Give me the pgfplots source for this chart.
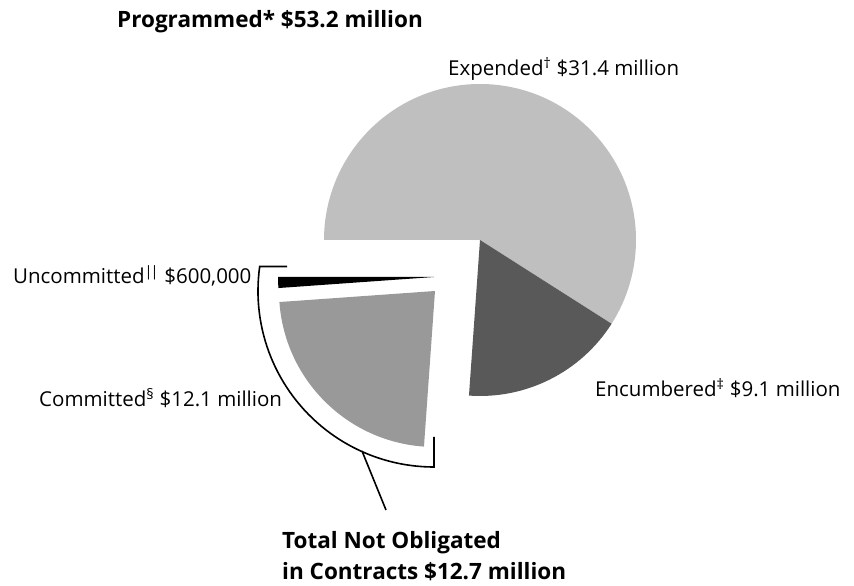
\documentclass[border=0pt]{standalone}
\usepackage{pgfplots}
\pgfplotsset{compat=1.18}
\usepackage{fontspec}
\setmainfont{Open Sans}

% amounts in million $
\def\vExp{31.4}
\def\vEnc{9.1}
\def\vCom{12.1}
\def\vUnc{0.6}
\pgfmathsetmacro\vTot{\vExp+\vEnc+\vCom+\vUnc}
\pgfmathsetmacro\aA{180-360*\vExp/\vTot}
\pgfmathsetmacro\aB{\aA-360*\vEnc/\vTot}
\pgfmathsetmacro\aC{\aB-360*\vCom/\vTot}
\pgfmathsetmacro\aD{\aC-360*\vUnc/\vTot}

\definecolor{cExp}{gray}{0.75}
\definecolor{cEnc}{gray}{0.35}
\definecolor{cCom}{gray}{0.6}

% colour, centre x, centre y, start angle, end angle
\newcommand\slice[5]{%
  \fill[#1] (axis cs:#2,#3) -- (axis cs:{#2+156*cos(#4)},{#3+156*sin(#4)})
    arc[start angle=#4,end angle=#5,radius=156pt] -- cycle;}

\begin{document}
\begin{tikzpicture}
  \begin{axis}[
    x=1pt,y=1pt,
    xmin=0,xmax=854,ymin=0,ymax=586,
    hide axis,
    clip=false]
    \path (axis cs:0,0) rectangle (axis cs:854,586);

    \slice{cExp}{480}{346}{180}{\aA}
    \slice{cEnc}{480}{346}{\aA}{\aB}
    % exploded
    \slice{cCom}{435}{295}{\aB}{\aC}
    \slice{black}{434}{309}{\aC}{\aD}

    % bracket round the part not obligated
    \draw[line width=1.6pt,miter limit=4]
      (axis cs:287,319.5) -- (axis cs:259.7,319.5)
      arc[start angle=172,end angle=270,radius=176pt]
      -- (axis cs:434,149);
    \draw[line width=1.6pt] (axis cs:362,135) -- (axis cs:386,76);

    \begin{scope}[every node/.style={anchor=base west,inner sep=0pt,
        font=\fontsize{20.5}{24}\selectfont}]
      \node[font=\fontsize{22.5}{26}\selectfont\bfseries] at (axis cs:117,558)
        {Programmed* \$53.2 million};
      \node at (axis cs:448,510) {Expended\textsuperscript{†} \$31.4 million};
      \node at (axis cs:13,302)
        {Uncommitted\textsuperscript{|\kern-2pt|} \$600,000};
      \node at (axis cs:39,179) {Committed\textsuperscript{§} \$12.1 million};
      \node at (axis cs:595,189) {Encumbered\textsuperscript{‡} \$9.1 million};
      \node[font=\fontsize{22.5}{26}\selectfont\bfseries] at (axis cs:282,37)
        {Total Not Obligated};
      \node[font=\fontsize{22.5}{26}\selectfont\bfseries] at (axis cs:282,6)
        {in Contracts \$12.7 million};
    \end{scope}
  \end{axis}
\end{tikzpicture}
\end{document}
